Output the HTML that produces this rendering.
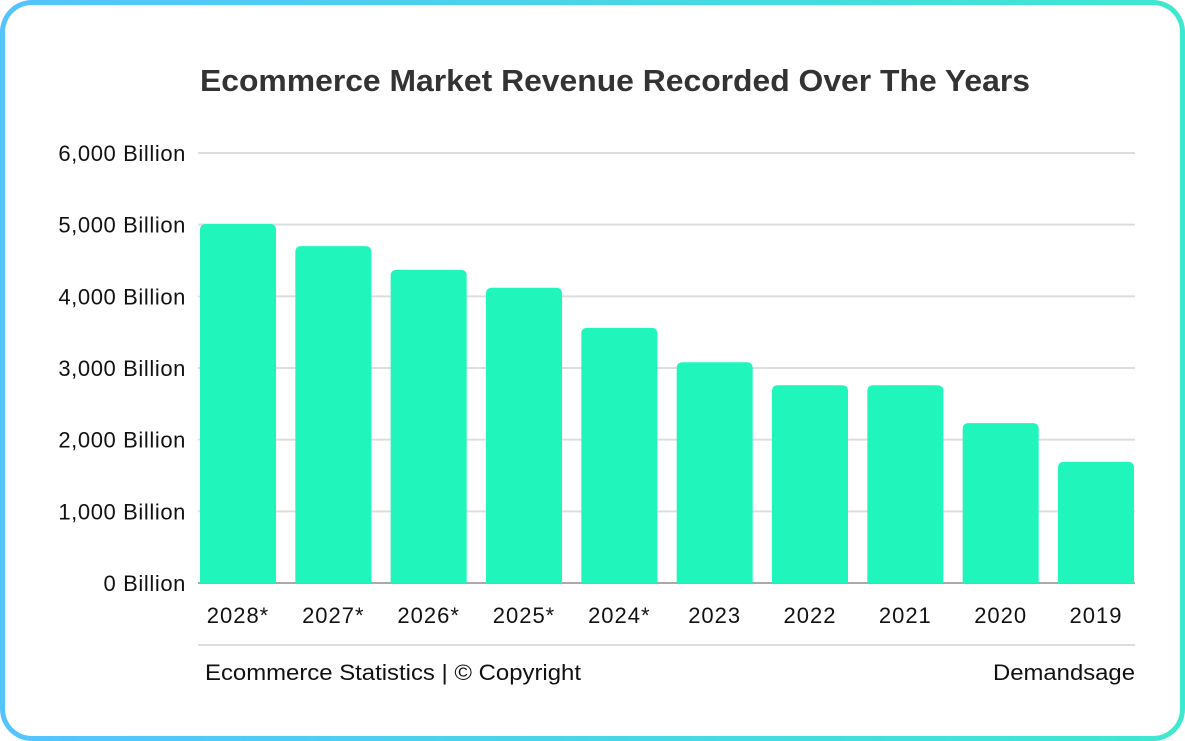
<!DOCTYPE html>
<html><head><meta charset="utf-8"><style>
html,body{margin:0;padding:0;background:#fff;}
#card{position:absolute;left:0;top:0;width:1185px;height:741px;box-sizing:border-box;border-radius:32px;padding:5px;background:linear-gradient(90deg,#55c3ff,#3de8d0);}
#inner{width:100%;height:100%;background:#fff;border-radius:27px;}
svg{position:absolute;left:0;top:0;}
text{font-family:"Liberation Sans",sans-serif;fill:#111;}
</style></head><body>
<div id="card"><div id="inner"></div></div>
<svg id="chart" width="1185" height="741">
<text x="200" y="91" font-size="31" font-weight="bold" textLength="830" lengthAdjust="spacingAndGlyphs" style="fill:#333">Ecommerce Market Revenue Recorded Over The Years</text>
<g id="grid"></g><g id="bars"></g><g id="xl"></g>
<line x1="198" x2="1135" y1="645" y2="645" stroke="#ddd" stroke-width="2"/>
<text x="205" y="680" font-size="22" textLength="376" lengthAdjust="spacingAndGlyphs">Ecommerce Statistics | © Copyright</text>
<text x="993" y="680" font-size="22" textLength="142" lengthAdjust="spacingAndGlyphs">Demandsage</text>
</svg>
<script>
const categories=["2028*","2027*","2026*","2025*","2024*","2023","2022","2021","2020","2019"];
const values=[5010,4700,4370,4120,3560,3080,2760,2760,2230,1690];
const ticks=[0,1000,2000,3000,4000,5000,6000];
const tickLabels=["0 Billion","1,000 Billion","2,000 Billion","3,000 Billion","4,000 Billion","5,000 Billion","6,000 Billion"];
const NS="http://www.w3.org/2000/svg";
const y0=583,y1=153,vmax=6000;
function y(v){return y0-(v/vmax)*(y0-y1);}
const left=198,firstC=238,lastC=1096,bw=76;
function xc(i){return firstC+(lastC-firstC)*i/(categories.length-1);}
const grid=document.getElementById('grid');
ticks.forEach((t,i)=>{
 const l=document.createElementNS(NS,'line');
 l.setAttribute('x1',left);l.setAttribute('x2',1135);l.setAttribute('y1',y(t));l.setAttribute('y2',y(t));
 l.setAttribute('stroke',t===0?'#aaa':'#ddd');l.setAttribute('stroke-width',2);
 
 
 grid.appendChild(l);
 const tx=document.createElementNS(NS,'text');
 tx.setAttribute('x',186);tx.setAttribute('y',y(t)+8);tx.setAttribute('text-anchor','end');tx.setAttribute('font-size','22');
 tx.setAttribute('letter-spacing','0.6');
 tx.textContent=tickLabels[i];
 
 
 grid.appendChild(tx);
});
const bars=document.getElementById('bars'),xl=document.getElementById('xl');
categories.forEach((c,i)=>{
 const r=document.createElementNS(NS,'path');
 const x=xc(i)-bw/2,top=y(values[i]),rr=6;
 r.setAttribute('d',`M${x},${y0} V${top+rr} Q${x},${top} ${x+rr},${top} H${x+bw-rr} Q${x+bw},${top} ${x+bw},${top+rr} V${y0} Z`);
 r.setAttribute('fill','#20f5bc');
 
 
 bars.appendChild(r);
 const t=document.createElementNS(NS,'text');
 t.setAttribute('x',xc(i));t.setAttribute('y',623);t.setAttribute('text-anchor','middle');t.setAttribute('font-size','22');
 t.setAttribute('letter-spacing','1');
 t.textContent=c;
 
 
 xl.appendChild(t);
});
</script>
</body></html>
